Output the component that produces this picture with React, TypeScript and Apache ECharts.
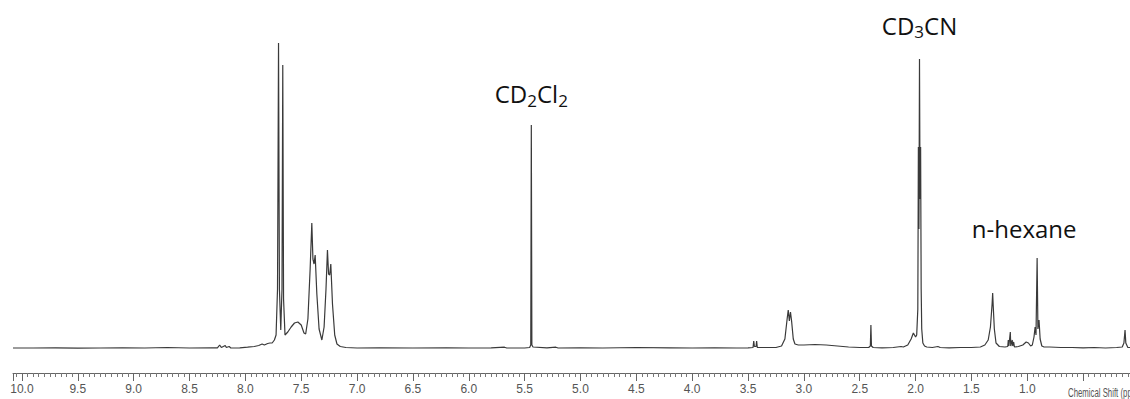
import React, { useEffect, useRef } from "react";
import * as echarts from "echarts";

// [chemical shift (ppm), intensity], high ppm -> low ppm
const downfieldBaseline: [number, number][] = [
  [10.08, 1], [9.9, 1], [9.7, 1.2], [9.5, 0.8], [9.3, 1], [9.1, 1.2], [8.9, 1],
  [8.7, 1.5], [8.5, 1], [8.3, 1.2], [8.25, 1.2], [8.23, 4], [8.215, 1.5],
  [8.18, 3.5], [8.17, 1.5], [8.145, 2.5], [8.13, 1], [8.05, 1.2], [7.98, 1.8],
  [7.92, 2.5], [7.88, 3.5], [7.85, 5], [7.83, 4], [7.8, 5.5], [7.78, 6],
  [7.76, 6], [7.74, 9], [7.725, 14],
];

const aromaticRegion: [number, number][] = [
  [7.712, 60], [7.703, 306], [7.695, 60], [7.683, 19], [7.672, 60], [7.665, 284],
  [7.658, 50], [7.645, 14], [7.62, 17], [7.59, 22], [7.56, 26], [7.53, 27],
  [7.5, 24], [7.475, 16], [7.46, 15], [7.44, 30], [7.42, 80], [7.405, 126],
  [7.395, 90], [7.385, 85], [7.375, 94], [7.36, 55], [7.34, 20], [7.315, 9],
  [7.295, 22], [7.278, 60], [7.265, 99], [7.255, 75], [7.245, 74], [7.235, 85],
  [7.22, 45], [7.2, 14], [7.18, 5], [7.15, 2.5], [7.1, 1.5],
];

const midRegion: [number, number][] = [
  [7.0, 1], [6.8, 1.2], [6.5, 1], [6.2, 1.2], [6.0, 1], [5.8, 1.2], [5.68, 1.8],
  [5.66, 1], [5.5, 1], [5.455, 1.5], [5.445, 4], [5.44, 224], [5.435, 4],
  [5.425, 2], [5.3, 1.2], [5.22, 1.8], [5.2, 1], [5.0, 1.2], [4.8, 1], [4.5, 1.5],
  [4.2, 1.2], [4.0, 1], [3.8, 1.2], [3.6, 1], [3.5, 1.2], [3.455, 1.5],
  [3.449, 8], [3.443, 2.5], [3.428, 2.5], [3.423, 8], [3.417, 1.5],
  [3.25, 1.5], [3.2, 3], [3.17, 10], [3.15, 30], [3.14, 39], [3.13, 28],
  [3.12, 37], [3.11, 28], [3.095, 10], [3.08, 5], [3.05, 4], [3.0, 4],
  [2.9, 4.5], [2.8, 4], [2.7, 3], [2.6, 2], [2.5, 1.5], [2.42, 1.5],
  [2.405, 3], [2.4, 24], [2.395, 3], [2.38, 1.5], [2.3, 1.2], [2.2, 1.5],
  [2.13, 2.5], [2.11, 2],
];

const acetonitrileRegion: [number, number][] = [
  [2.07, 4], [2.04, 10], [2.02, 16], [2.0, 12], [1.99, 14], [1.98, 40],
  [1.975, 202], [1.97, 120], [1.965, 290], [1.96, 150], [1.955, 202],
  [1.95, 60], [1.945, 20], [1.935, 6], [1.92, 3], [1.9, 2], [1.85, 1.5],
  [1.8, 2.5], [1.78, 1.5], [1.7, 1.2], [1.6, 1.5], [1.5, 1.5],
];

const hexaneRegion: [number, number][] = [
  [1.42, 2], [1.38, 4], [1.35, 9], [1.33, 22], [1.315, 45], [1.31, 56],
  [1.305, 43], [1.295, 20], [1.28, 6], [1.25, 2.5], [1.2, 2], [1.175, 2.5],
  [1.17, 9], [1.165, 3], [1.152, 17], [1.148, 3], [1.135, 9], [1.13, 3],
  [1.122, 7], [1.115, 2], [1.08, 2.5], [1.04, 4], [1.01, 7], [0.99, 6],
  [0.97, 3], [0.955, 4], [0.94, 12], [0.93, 22], [0.922, 14], [0.912, 91],
  [0.905, 20], [0.895, 29], [0.885, 10], [0.87, 3], [0.85, 2],
];

const upfieldRegion: [number, number][] = [
  [0.8, 2], [0.7, 1.5], [0.6, 1.5], [0.5, 1.2], [0.4, 1.5], [0.3, 1],
  [0.2, 1.5], [0.15, 2], [0.135, 6], [0.125, 19], [0.118, 6], [0.1, 1.5],
  [0.06, 1.5],
];

const peakLabels = [
  { ppm: 5.44, main: ["CD", "Cl"], subs: ["2", "2"] },
  { ppm: 1.965, main: ["CD", "CN"], subs: ["3", ""] },
];
const hexaneLabel = { ppm: 0.912, text: "n-hexane" };
const axisTitle = "Chemical Shift (ppm)";
const tickStep = 0.5;
const axisMin = 0;
const axisMax = 10.08;

const narrowFont =
  '"Liberation Sans Narrow", "Arial Narrow", "Liberation Sans", sans-serif';
const labelFont = '"Open Sans", "Noto Sans", sans-serif';

export default function App() {
  const ref = useRef<HTMLDivElement>(null);
  useEffect(() => {
    const el = ref.current;
    if (!el) return;
    const chart = echarts.init(el, null, { renderer: "svg" });
    const spectrum = [
      ...downfieldBaseline,
      ...aromaticRegion,
      ...midRegion,
      ...acetonitrileRegion,
      ...hexaneRegion,
      ...upfieldRegion,
    ];
    chart.setOption({
      animation: false,
      backgroundColor: "#ffffff",
      grid: {
        left: 13,
        right: -9,
        top: 39,
        bottom: 50,
        containLabel: false,
        outerBoundsMode: "none",
      },
      xAxis: {
        type: "value",
        inverse: true,
        min: axisMin,
        max: axisMax,
        interval: tickStep,
        offset: 24,
        axisLine: { show: true, onZero: false, lineStyle: { color: "#666", width: 1 } },
        axisTick: { show: true, inside: false, length: 8, lineStyle: { color: "#666", width: 1 } },
        minorTick: { show: true, splitNumber: 10, length: 4, lineStyle: { color: "#777", width: 1 } },
        splitLine: { show: false },
        axisLabel: {
          margin: 10,
          fontSize: 12,
          fontFamily: narrowFont,
          color: "#555",
          formatter: (v: number) => {
            const onStep = Math.abs(v / tickStep - Math.round(v / tickStep)) < 1e-6;
            return onStep && v > 0.9 && v < 10.01 ? v.toFixed(1) : "";
          },
        },
      },
      yAxis: { type: "value", show: false, min: 0, max: 310 },
      series: [
        {
          type: "line",
          data: spectrum,
          showSymbol: false,
          symbol: "none",
          silent: true,
          lineStyle: { color: "#3a3a3a", width: 1.2 },
        },
      ],
    });

    const px = (ppm: number) => chart.convertToPixel({ xAxisIndex: 0 }, ppm) as number;
    const ys = [93.5, 25];
    const graphic: any[] = peakLabels.map((lab, i) => {
      let text = "";
      lab.main.forEach((m, j) => {
        text += `{a|${m}}`;
        if (lab.subs[j]) text += `{s|${lab.subs[j]}}`;
      });
      return {
        type: "text",
        x: px(lab.ppm),
        y: ys[i],
        silent: true,
        style: {
          text,
          align: "center",
          verticalAlign: "middle",
          rich: {
            a: { fontSize: 24, lineHeight: 30, fontFamily: labelFont, fill: "#111" },
            s: { fontSize: 17, lineHeight: 15, verticalAlign: "bottom", fontFamily: labelFont, fill: "#111" },
          },
        },
      };
    });
    graphic.push({
      type: "text",
      x: px(hexaneLabel.ppm) - 13,
      y: 228.6,
      silent: true,
      style: {
        text: hexaneLabel.text,
        align: "center",
        verticalAlign: "middle",
        fontSize: 24,
        fontFamily: labelFont,
        fill: "#111",
      },
    });
    graphic.push({
      type: "text",
      x: 1068,
      y: 392,
      scaleX: 0.6,
      silent: true,
      style: {
        text: axisTitle,
        align: "left",
        verticalAlign: "middle",
        fontSize: 13,
        fontFamily: narrowFont,
        fill: "#555",
      },
    });
    chart.setOption({ graphic });

    return () => chart.dispose();
  }, []);
  return (
    <div
      ref={ref}
      style={{ position: "fixed", left: 0, top: 0, width: 1130, height: 399 }}
    />
  );
}
